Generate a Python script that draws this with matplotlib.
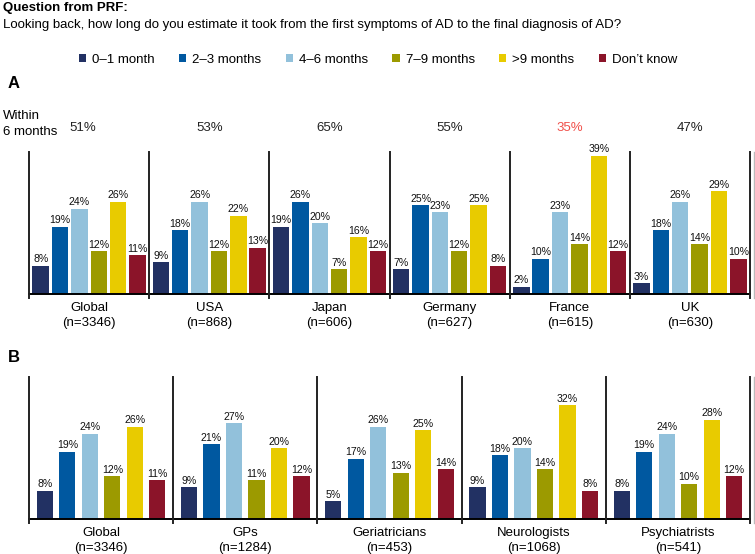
import numpy as np
import matplotlib.pyplot as plt

plt.rcParams['font.family'] = ['Liberation Sans', 'DejaVu Sans']

series = ["0\u20131 month", "2\u20133 months", "4\u20136 months", "7\u20139 months", ">9 months", "Don\u2019t know"]
colors = ["#223163", "#0058a0", "#92c1db", "#9c9a00", "#e8cb00", "#8b1429"]

# Panel A: by country
countries = ["Global\n(n=3346)", "USA\n(n=868)", "Japan\n(n=606)", "Germany\n(n=627)", "France\n(n=615)", "UK\n(n=630)"]
within6 = ["51%", "53%", "65%", "55%", "35%", "47%"]
vals_a = np.array([
    [8, 19, 24, 12, 26, 11],
    [9, 18, 26, 12, 22, 13],
    [19, 26, 20, 7, 16, 12],
    [7, 25, 23, 12, 25, 8],
    [2, 10, 23, 14, 39, 12],
    [3, 18, 26, 14, 29, 10],
])

# Panel B: by specialty
specialties = ["Global\n(n=3346)", "GPs\n(n=1284)", "Geriatricians\n(n=453)", "Neurologists\n(n=1068)", "Psychiatrists\n(n=541)"]
vals_b = np.array([
    [8, 19, 24, 12, 26, 11],
    [9, 21, 27, 11, 20, 12],
    [5, 17, 26, 13, 25, 14],
    [9, 18, 20, 14, 32, 8],
    [8, 19, 24, 10, 28, 12],
])

fig = plt.figure(figsize=(7.55, 5.54), dpi=100)
W, H = 755, 554


def draw_panel(ax, groups, vals, pitch, width):
    n = len(groups)
    for j in range(len(series)):
        x = np.arange(n) + 0.5 + (j - 2.5) * pitch
        bars = ax.bar(x, vals[:, j], width=width, color=colors[j], label=series[j], zorder=2)
        for b, v in zip(bars, vals[:, j]):
            ax.text(b.get_x() + b.get_width() / 2, v + 0.4, f"{v}%", ha="center", va="bottom",
                    fontsize=7.6, color="#111111")
    ax.set_xlim(0, n)
    ax.set_ylim(0, 40)
    for s in ["top", "right", "left"]:
        ax.spines[s].set_visible(False)
    ax.spines["bottom"].set_linewidth(1.4)
    ax.set_yticks([])
    ax.set_xticks(np.arange(n) + 0.5)
    ax.set_xticklabels(groups, fontsize=9.5, linespacing=1.35)
    ax.tick_params(axis="x", length=0, pad=6)
    for k in range(n + 1):
        ax.plot([k, k], [-1.1, 40], color="#222222", lw=1.4, clip_on=False, zorder=3)
    ax.plot([n + 0.03, n + 0.03], [-1.1, 40], color="#bbbbbb", lw=1.0, clip_on=False)


# panel A
axa = fig.add_axes([29 / W, 1 - 294 / H, 721 / W, 142 / H])
draw_panel(axa, countries, vals_a, 0.161, 0.137)
for i, t in enumerate(within6):
    dx = -0.05 if i == 0 else 0
    axa.text(i + 0.5 + dx, 1.17, t, transform=axa.get_xaxis_transform(), ha="center", va="center",
             fontsize=9.5, color="#f0504a" if t == "35%" else "#222222")

# panel B
axb = fig.add_axes([29 / W, 1 - 519 / H, 721 / W, 142 / H])
draw_panel(axb, specialties, vals_b, 0.156, 0.112)

fig.text(3 / W, 1 - 8 / H, "Question from PRF:", fontsize=9.5, fontweight="bold", va="center")
fig.text(3 / W, 1 - 25 / H,
         "Looking back, how long do you estimate it took from the first symptoms of AD to the final diagnosis of AD?",
         fontsize=9.5, va="center")
fig.text(8 / W, 1 - 84 / H, "A", fontsize=12, fontweight="bold", va="center")
fig.text(8 / W, 1 - 358 / H, "B", fontsize=12, fontweight="bold", va="center")
fig.text(3 / W, 1 - 124 / H, "Within\n6 months", fontsize=9.5, va="center", linespacing=1.5)

handles, labels = axa.get_legend_handles_labels()
fig.legend(handles, labels, loc="center", bbox_to_anchor=(378 / W, 1 - 60 / H), ncol=6, frameon=False,
           fontsize=9.5, handlelength=0.55, handleheight=0.55, handletextpad=0.45, columnspacing=1.85)

fig.savefig("out.png", dpi=100)
